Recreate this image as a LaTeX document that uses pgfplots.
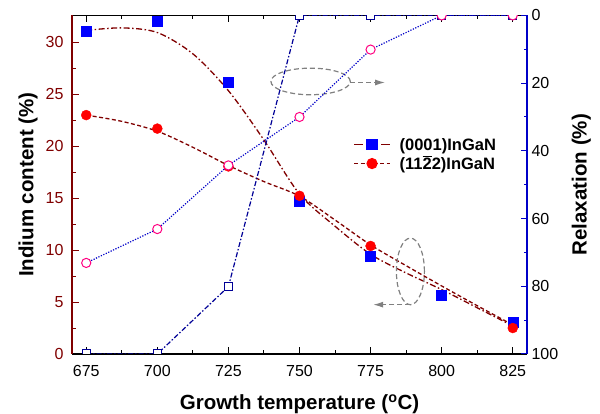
\documentclass[border=0pt]{standalone}
\usepackage{pgfplots}
\pgfplotsset{compat=1.18}
\usepackage{fontspec}
\setmainfont{Liberation Sans}
\usetikzlibrary{arrows.meta}
\definecolor{dred}{RGB}{128,0,0}
\definecolor{mblue}{RGB}{0,0,255}
\definecolor{mred}{RGB}{255,0,0}
\definecolor{mpink}{RGB}{255,0,128}
\definecolor{lblue}{RGB}{0,0,200}
\definecolor{nblue}{RGB}{0,0,150}
\definecolor{agray}{RGB}{128,128,128}
\begin{document}
\begin{tikzpicture}
\path[use as bounding box] (0,0) rectangle (600pt,414pt);
\pgfplotsset{
  common/.style={
    at={(72pt,60pt)}, anchor=south west,
    scale only axis, width=455pt, height=338.6pt,
    xmin=670, xmax=830,
    /pgf/number format/assume math mode=true,
    tick label style={font=\fontsize{16}{19}\selectfont},
    major tick length=6.5pt, minor tick length=3.5pt,
    every tick/.append style={line width=1pt},
    every minor tick/.append style={line width=1pt},
  }
}
\begin{axis}[common,
  separate axis lines,
  tick align=inside,
  ymin=0, ymax=32.6,
  xtick={675,700,...,825}, minor x tick num=1,
  ytick={0,5,...,30}, minor y tick num=1,
  ytick pos=left,
  x axis line style={black, line width=1.2pt},
  y axis line style={dred, line width=1.2pt},
  xtick style={black}, ytick style={dred},
  xticklabel style={yshift=-8pt},
  yticklabel style={dred, xshift=-5pt},
  xlabel={Growth temperature (\textsuperscript{o}C)},
  ylabel={Indium content (\%)},
  label style={font=\fontsize{20.5}{24}\selectfont\bfseries},
  xlabel style={at={(axis description cs:0.5,-0.164)}, anchor=base},
  ylabel style={at={(axis description cs:-0.085,0.5)}, anchor=base},
  legend image code/.code={\path (0pt,0pt) (43pt,0pt);\draw[mark repeat=2, mark phase=2, #1] plot coordinates {(0pt,0pt) (18pt,0pt) (36pt,0pt)};},
  legend style={draw=none, fill=none, at={(axis cs:768.9,21.0)}, anchor=north west,
    font=\fontsize{16.5}{19}\selectfont\bfseries, inner xsep=0pt, inner ysep=0pt,
    row sep=0.5pt},
  legend cell align=left,
]
\addlegendimage{dred, line width=1.2pt, dash pattern=on 9pt off 18pt on 9pt, mark=square*, mark size=5pt, mark options={solid, fill=mblue, draw=mblue}}
\addlegendentry{(0001)InGaN}
\addlegendimage{dred, line width=1.2pt, dash pattern=on 4pt off 2.5pt, mark=*, mark size=5pt, mark options={solid, fill=mred, draw=mred}}
\addlegendentry{(11$\overline{\mbox{2}}$2)InGaN}
% fits
\addplot[forget plot, dred, line width=1.3pt, smooth, tension=0.5, dash pattern=on 6pt off 2.5pt on 1.5pt off 2.5pt] coordinates {
(675,31.15) (687.5,31.4) (700,30.95) (712.5,28.9) (725,25.35) (737.5,20.6) (750,15.4) (762.5,12.3) (775,9.6) (787.5,7.8) (800,6.2) (812.5,4.45) (825,2.7)};
\addplot[forget plot, dred, line width=1.3pt, smooth, tension=0.5, dash pattern=on 4pt off 2.5pt] coordinates {
(675,23.0) (687.5,22.4) (700,21.45) (712.5,19.9) (725,18.15) (737.5,16.6) (750,15.2) (762.5,12.9) (775,10.5) (787.5,8.5) (800,6.55) (812.5,4.65) (825,2.8)};
% data
\addplot[forget plot, only marks, mark=square*, mark size=5pt, mark options={fill=mblue, draw=mblue}] coordinates {
(675,31.05) (700,32.0) (725,26.15) (750,14.75) (775,9.4) (800,5.64) (825,3.05)};
\addplot[forget plot, only marks, mark=*, mark size=5pt, mark options={fill=mred, draw=mred}] coordinates {
(675,23.0) (700,21.7) (725,18.06) (750,15.23) (775,10.4) (825,2.5)};
% annotations
\draw[agray, line width=1.2pt, dash pattern=on 5pt off 3pt] (axis cs:753.9,26.24) ellipse [x radius=39.7pt, y radius=13.3pt];
\draw[agray, line width=1.2pt, dash pattern=on 5pt off 3pt, -{Latex[length=10pt,width=6pt]}] (axis cs:767.8,26.14) -- (axis cs:780.1,26.14);
\draw[agray, line width=1.2pt, dash pattern=on 5pt off 3pt] (axis cs:789,7.95) ellipse [x radius=14pt, y radius=33.3pt];
\draw[agray, line width=1.2pt, dash pattern=on 5pt off 3pt, -{Latex[length=10pt,width=6pt]}] (axis cs:789,4.75) -- (axis cs:775.9,4.75);
\end{axis}
\begin{axis}[common,
  ymin=0, ymax=100, y dir=reverse,
  axis y line*=right, axis x line=none,
  tick align=inside,
  ytick={0,20,...,100}, minor y tick num=1,
  y axis line style={lblue, line width=1.2pt}, ytick style={lblue},
  yticklabel style={black, xshift=1pt},
  ylabel={Relaxation (\%)},
  ylabel style={font=\fontsize{20.5}{24}\selectfont\bfseries, at={(axis description cs:1.131,0.5)}, anchor=base},
  clip marker paths=true,
]
\addplot[nblue, line width=1.2pt, dash pattern=on 5pt off 2pt on 1.5pt off 2pt, mark=square*, mark size=4.2pt, mark options={solid, fill=white, draw=nblue, line width=1pt}] coordinates {
(675,100) (700,100) (725,80.1) (750,0) (775,0) (800,0) (825,0)};
\addplot[lblue, line width=1.2pt, dash pattern=on 1.2pt off 1.5pt, mark=*, mark size=4.6pt, mark options={solid, fill=white, draw=mpink, line width=1pt}] coordinates {
(675,73.1) (700,63.1) (725,44.3) (750,30.0) (775,10.1) (800,0) (825,0)};
\end{axis}
\end{tikzpicture}
\end{document}
